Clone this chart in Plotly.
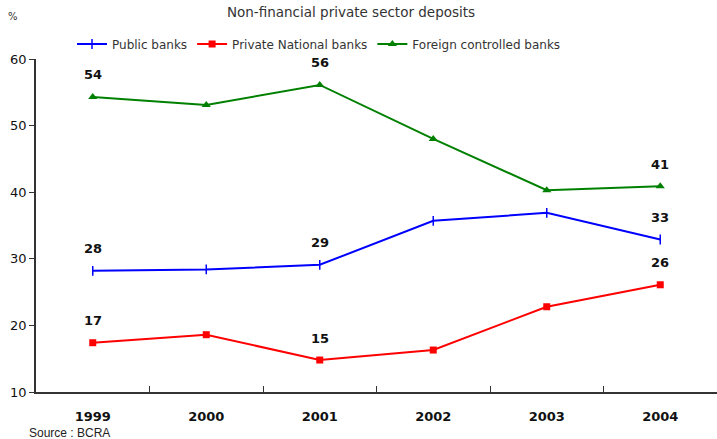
import plotly.graph_objects as go

years = ["1999", "2000", "2001", "2002", "2003", "2004"]
public_banks = [28.2, 28.4, 29.1, 35.7, 36.9, 32.9]
private_national = [17.4, 18.6, 14.8, 16.3, 22.8, 26.1]
foreign_controlled = [54.3, 53.1, 56.1, 48.0, 40.3, 40.9]
y_ticks = [10, 20, 30, 40, 50, 60]

# which points carry a value label
public_labelled = [True, False, True, False, False, True]
private_labelled = [True, False, True, False, False, True]
foreign_labelled = [True, False, True, False, False, True]

FONT = "DejaVu Sans"

# plot area in pixels, for placing paper-anchored text
L, R, T, B = 36, 0, 59, 47
W, H = 717, 439
PW, PH = W - L - R, H - T - B


def px_x(px):
    return (px - L) / PW


def px_y(py):
    return (H - B - py) / PH


series = [
    ("Public banks", public_banks, public_labelled, "#0000FF",
     dict(symbol="line-ns-open", size=7, line=dict(width=1.5, color="#0000FF"))),
    ("Private National banks", private_national, private_labelled, "#FF0000",
     dict(symbol="square", size=7, color="#FF0000")),
    ("Foreign controlled banks", foreign_controlled, foreign_labelled, "#008000",
     dict(symbol="triangle-up", size=8, color="#008000")),
]

fig = go.Figure()
annotations = []
for name, vals, labelled, color, marker in series:
    fig.add_trace(go.Scatter(
        x=years, y=vals, name=name, mode="lines+markers",
        line=dict(color=color, width=2), marker=marker,
    ))
    for i, (v, show) in enumerate(zip(vals, labelled)):
        if show:
            # category axis: annotation x given as the category index
            annotations.append(dict(
                x=i, y=v, xref="x", yref="y", text=f"<b>{round(v)}</b>",
                showarrow=False, yshift=22,
                font=dict(family=FONT, size=13, color="#111111"),
            ))

annotations += [
    dict(text="%", x=px_x(13), y=px_y(17), xref="paper", yref="paper",
         xanchor="center", yanchor="middle", showarrow=False,
         font=dict(family=FONT, size=10, color="#333333")),
    dict(text="Source : BCRA", x=px_x(27), y=px_y(433), xref="paper", yref="paper",
         xanchor="left", yanchor="middle", showarrow=False,
         font=dict(family="Liberation Sans", size=12, color="#222222")),
]

fig.update_layout(
    width=W, height=H,
    margin=dict(l=L, r=R, t=T, b=B),
    paper_bgcolor="white", plot_bgcolor="white",
    title=dict(text="Non-financial private sector deposits", x=351 / W, xanchor="center",
               y=1 - 12 / H, yanchor="middle",
               font=dict(family=FONT, size=13.5, color="#333333")),
    legend=dict(orientation="h", x=px_x(72), xanchor="left", y=px_y(44), yanchor="middle",
                font=dict(family=FONT, size=12, color="#333333"),
                bgcolor="rgba(0,0,0,0)", itemwidth=30),
    showlegend=True,
    annotations=annotations,
    font=dict(family=FONT),
)

fig.update_xaxes(
    type="category", range=[-0.5, 5.5], tickson="boundaries", ticks="inside", ticklen=6,
    tickcolor="#333333", showline=True, linecolor="#333333", linewidth=1.5,
    showgrid=False, tickfont=dict(family=FONT, size=13, color="#111111"),
    tickprefix="<b>", ticksuffix="</b>", ticklabelstandoff=12,
)
fig.update_yaxes(
    range=[10, 60], tickvals=y_ticks, ticks="outside", ticklen=5,
    tickcolor="#333333", showline=True, linecolor="#333333", linewidth=1.5,
    showgrid=False, zeroline=False,
    tickfont=dict(family=FONT, size=13, color="#111111"),
    tickprefix="<b>", ticksuffix="</b>",
)

fig.write_html("out.html")
